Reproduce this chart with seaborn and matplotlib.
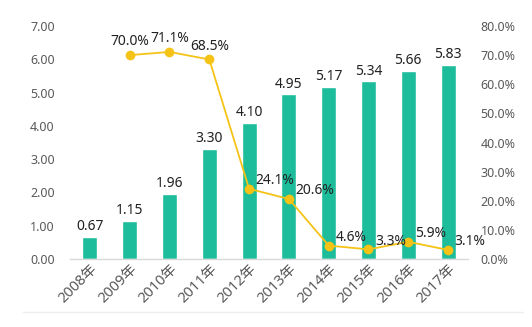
import matplotlib
matplotlib.use("Agg")
import matplotlib.pyplot as plt
import seaborn as sns
import numpy as np
import pandas as pd
from matplotlib.lines import Line2D

years = ["2008年", "2009年", "2010年", "2011年", "2012年", "2013年", "2014年", "2015年", "2016年", "2017年"]
values = [0.67, 1.15, 1.96, 3.30, 4.10, 4.95, 5.17, 5.34, 5.66, 5.83]
growth = [np.nan, 70.0, 71.1, 68.5, 24.1, 20.6, 4.6, 3.3, 5.9, 3.1]

sns.set_theme(style="white")
plt.rcParams['font.family'] = ['Noto Sans', 'Noto Sans CJK SC', 'DejaVu Sans']

bar_color = "#1dbc9a"
line_color = "#f5c316"
tick_color = "#595959"

fig = plt.figure(figsize=(5.32, 3.27), dpi=100)
ax = fig.add_axes([70/532, 1-259/327, 398/532, 233/327])

df = pd.DataFrame({"year": years, "value": values, "growth": growth})
sns.barplot(data=df, x="year", y="value", color=bar_color, width=0.38, ax=ax, saturation=1)
ax.set_ylim(0, 7)
ax.set_xlim(-0.5, len(years) - 0.5)
ax.set_yticks(np.arange(0, 7.01, 1))
ax.set_yticklabels([f"{v:.2f}" for v in np.arange(0, 7.01, 1)])
ax.set_xlabel("")
ax.set_ylabel("")
for s in ["top", "right", "left"]:
    ax.spines[s].set_visible(False)
ax.spines["bottom"].set_color("#d9d9d9")
ax.spines["bottom"].set_linewidth(1)
ax.tick_params(axis="y", length=0, pad=11, labelsize=9, colors=tick_color)
ax.tick_params(axis="x", length=0, pad=2, labelsize=10.5, colors=tick_color)
for lab in ax.get_xticklabels():
    lab.set_rotation(45)
    lab.set_ha("right")
    lab.set_rotation_mode("anchor")

for i, v in enumerate(values):
    ax.text(i, v + 0.08, f"{v:.2f}", ha="center", va="bottom", fontsize=10, color="#222222")

ax2 = ax.twinx()
pos = np.arange(len(years))
sns.lineplot(x=pos, y=growth, ax=ax2, color=line_color, linewidth=1.3, marker="o",
             markersize=7, markeredgewidth=0, markerfacecolor=line_color)
ax2.set_ylim(0, 80)
ax2.set_yticks(np.arange(0, 80.1, 10))
ax2.set_yticklabels([f"{v:.1f}%" for v in np.arange(0, 80.1, 10)])
ax2.set_xlim(-0.5, len(years) - 0.5)
for s in ["top", "right", "left", "bottom"]:
    ax2.spines[s].set_visible(False)
ax2.tick_params(axis="y", length=0, pad=9, labelsize=9, colors=tick_color)

for i, g in enumerate(growth):
    if np.isnan(g):
        continue
    if g > 50:
        ax2.text(i, g + 2.0, f"{g:.1f}%", ha="center", va="bottom", fontsize=10, color="#222222")
    else:
        ax2.text(i + 0.17, g + 0.3, f"{g:.1f}%", ha="left", va="bottom", fontsize=10, color="#222222")

fig.add_artist(Line2D([23/532, 523/532], [1-312/327, 1-312/327], color="#eeeeee", linewidth=1))

fig.savefig("out.png", dpi=100)
